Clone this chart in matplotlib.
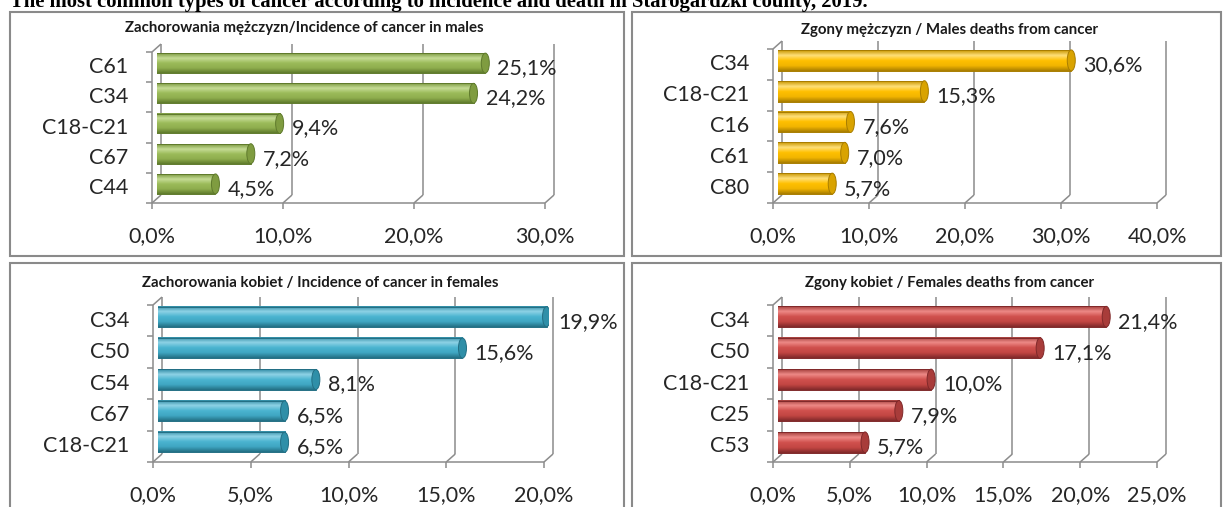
import numpy as np
import matplotlib
matplotlib.use('Agg')
import matplotlib.pyplot as plt
from matplotlib import transforms
from matplotlib.colors import LinearSegmentedColormap
from matplotlib.patches import Ellipse, Rectangle

W, H, DPI = 1223, 507, 100

# data
m_inc_cat = ['C61', 'C34', 'C18-C21', 'C67', 'C44']
m_inc_val = [25.1, 24.2, 9.4, 7.2, 4.5]
m_dth_cat = ['C34', 'C18-C21', 'C16', 'C61', 'C80']
m_dth_val = [30.6, 15.3, 7.6, 7.0, 5.7]
f_inc_cat = ['C34', 'C50', 'C54', 'C67', 'C18-C21']
f_inc_val = [19.9, 15.6, 8.1, 6.5, 6.5]
f_dth_cat = ['C34', 'C50', 'C18-C21', 'C25', 'C53']
f_dth_val = [21.4, 17.1, 10.0, 7.9, 5.7]

m_inc_ticks = [0, 10, 20, 30]
m_dth_ticks = [0, 10, 20, 30, 40]
f_inc_ticks = [0, 5, 10, 15, 20]
f_dth_ticks = [0, 5, 10, 15, 20, 25]

main_title = ('The most common types of cancer according to incidence and death '
              'in Starogardzki county, 2019.')
t_m_inc = 'Zachorowania mężczyzn/Incidence of cancer in males'
t_m_dth = 'Zgony mężczyzn / Males deaths from cancer'
t_f_inc = 'Zachorowania kobiet / Incidence of cancer in females'
t_f_dth = 'Zgony kobiet / Females deaths from cancer'

# bar shading: top edge, highlight, base, base, bottom edge, cap
green = ['#7d9a42', '#c6dc96', '#9bbb59', '#8fae4e', '#5f7a2c', '#7f9c40']
gold = ['#c79500', '#ffe07a', '#ffc000', '#f2b500', '#a87d00', '#d9a300']
blue = ['#2f8aa3', '#8fd3e6', '#4bb4d0', '#3fa6c2', '#236f84', '#2f8fa8']
red = ['#a33e3b', '#ee8a87', '#d0504d', '#c24643', '#80292a', '#a83c3a']

GRID = '#8c8c8c'
DX, DY = 9, 8  # depth offset of the 3D back wall, px

fig = plt.figure(figsize=(W / DPI, H / DPI), dpi=DPI)
fig.patch.set_facecolor('white')

LABEL_FONT = ['Lato', 'DejaVu Sans']
TITLE_FONT = ['Lato', 'DejaVu Sans']


def fx(px):
    return px / W


def fy(py):
    return 1 - py / H


# panel frames
for (x0, y0, x1, y1) in [(10, 12, 624, 256), (632, 12, 1221, 256),
                         (10, 263, 624, 520), (632, 263, 1221, 520)]:
    fig.patches.append(Rectangle((fx(x0), fy(y1)), fx(x1 - x0), (y1 - y0) / H,
                                 transform=fig.transFigure, fill=False,
                                 edgecolor='#8a8a8a', linewidth=1.5))

fig.text(fx(10), fy(6.5), main_title, family=['Liberation Serif', 'DejaVu Serif'],
         fontweight='bold', fontsize=14.9, ha='left', va='baseline')


def panel(front, cats, vals, ticks, cols, title, title_xy, bar_h):
    fx0, fx1, fyt, fyb = front
    # axes = middle plane of the 3D box
    left, right = fx0 + DX / 2, fx1 + DX / 2
    top, bot = fyt - DY / 2, fyb - DY / 2
    ax = fig.add_axes([fx(left), fy(bot), fx(right - left), (bot - top) / H])
    ax.set_axis_off()
    xmax = ticks[-1]
    n = len(cats)
    pxu = (right - left) / xmax
    ylo, yhi = n - 0.5, -0.5
    ax.set_xlim(0, xmax)
    ax.set_ylim(ylo, yhi)
    ax.set_autoscale_on(False)

    off = lambda px, py: transforms.ScaledTranslation(px / DPI, py / DPI, fig.dpi_scale_trans)
    front_t = ax.transData + off(-DX / 2, -DY / 2)
    back_t = ax.transData + off(DX / 2, DY / 2)
    kw = dict(color=GRID, lw=1.1, clip_on=False, solid_capstyle='butt')

    # back wall grid
    for t in ticks:
        ax.plot([t, t], [ylo, yhi], transform=back_t, zorder=1, **kw)
    # floor diagonals and front ticks
    for t in ticks:
        p0 = front_t.transform((t, ylo))
        p1 = back_t.transform((t, ylo))
        ax.plot([p0[0], p1[0]], [p0[1], p1[1]], transform=None, zorder=1, **kw)
        ax.plot([p0[0], p0[0]], [p0[1], p0[1] - 6], transform=None, zorder=1, **kw)
        ax.annotate(f'{t:.1f}'.replace('.', ',') + '%', (t, ylo), xycoords=front_t,
                    xytext=(0, -33), textcoords='offset pixels', ha='center',
                    va='center', fontsize=15.5, family=LABEL_FONT, color='#262626')
    # top-left diagonal
    p0 = front_t.transform((0, yhi))
    p1 = back_t.transform((0, yhi))
    ax.plot([p0[0], p1[0]], [p0[1], p1[1]], transform=None, zorder=1, **kw)
    # front floor edge and front left edge
    ax.plot([0, xmax], [ylo, ylo], transform=front_t, zorder=4, **kw)
    ax.plot([0, 0], [ylo, yhi], transform=front_t, zorder=4, **kw)
    for b in np.arange(n + 1) - 0.5:
        p = front_t.transform((0, b))
        ax.plot([p[0] - 6, p[0]], [p[1], p[1]], transform=None, zorder=4, **kw)

    cmap = LinearSegmentedColormap.from_list('cyl', cols[:5])
    grad = np.linspace(0, 1, 64).reshape(-1, 1)
    capw = 8 / pxu
    x_start = -3 / pxu
    for i, (c, v) in enumerate(zip(cats, vals)):
        ax.imshow(grad, extent=(x_start, v, i + bar_h / 2, i - bar_h / 2),
                  origin='upper', aspect='auto', cmap=cmap, zorder=3,
                  interpolation='bilinear')
        ax.add_patch(Rectangle((x_start, i - bar_h / 2), v - x_start, bar_h,
                               fill=False, edgecolor=cols[4], lw=0.7, zorder=3))
        ax.add_patch(Ellipse((v, i), capw, bar_h, facecolor=cols[5],
                             edgecolor=cols[4], lw=0.7, zorder=3))
        ax.annotate(f'{v:.1f}'.replace('.', ',') + '%', (v, i), xycoords='data',
                    xytext=(12, -5), textcoords='offset pixels', ha='left',
                    va='center', fontsize=15.5, family=LABEL_FONT, color='#262626')
        ax.annotate(c, (0, i), xycoords=front_t, xytext=(-24, 0),
                    textcoords='offset pixels', ha='right', va='center',
                    fontsize=15.5, family=LABEL_FONT, color='#262626')

    ax.set_xlim(0, xmax)
    ax.set_ylim(ylo, yhi)
    fig.text(fx(title_xy[0]), fy(title_xy[1]), title, family=TITLE_FONT,
             fontweight='bold', fontsize=10.8, ha='center', va='center', color='#1a1a1a')


panel((152, 545, 52, 203), m_inc_cat, m_inc_val, m_inc_ticks, green,
      t_m_inc, (304, 28), 0.66)
panel((773, 1157, 49, 203), m_dth_cat, m_dth_val, m_dth_ticks, gold,
      t_m_dth, (950, 30), 0.68)
panel((153, 544, 305, 462), f_inc_cat, f_inc_val, f_inc_ticks, blue,
      t_f_inc, (320, 283), 0.64)
panel((773, 1157, 305, 462), f_dth_cat, f_dth_val, f_dth_ticks, red,
      t_f_dth, (950, 283), 0.66)

fig.savefig('out.png', dpi=DPI, facecolor='white')
